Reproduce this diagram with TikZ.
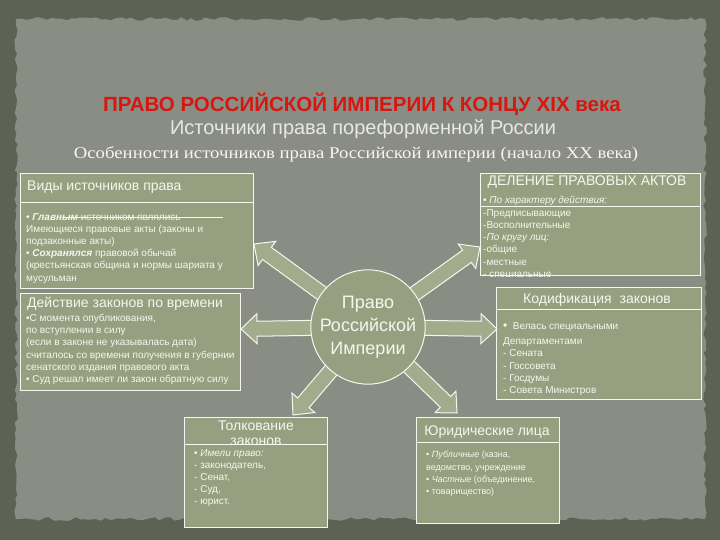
\documentclass[tikz,border=0pt]{standalone}
\usepackage{graphicx}
\usepackage{fontspec}
\setmainfont{Liberation Sans}
\newfontfamily\serifru{Liberation Serif}
\usetikzlibrary{calc,decorations.pathmorphing}
\definecolor{frame}{RGB}{92,98,84}
\definecolor{paper}{RGB}{138,141,132}
\definecolor{sage}{RGB}{150,160,128}
\definecolor{sagelt}{RGB}{162,172,140}
\definecolor{ink}{RGB}{246,246,238}
\definecolor{subgray}{RGB}{232,232,230}
\definecolor{titlered}{RGB}{215,22,18}
\newcommand\blockarrow[2]{%
  \coordinate (h) at ($(#2)!16pt!(#1)$);
  \draw[barrow] ($(#1)!7.5pt!90:(#2)$) -- ($(h)!7.5pt!90:(#2)$) -- ($(h)!15pt!90:(#2)$)
    -- (#2) -- ($(h)!15pt!-90:(#2)$) -- ($(h)!7.5pt!-90:(#2)$) -- ($(#1)!7.5pt!-90:(#2)$) -- cycle;}
\begin{document}
\begin{tikzpicture}[x=1pt,y=-1pt,
  box/.style={draw=ink, line width=1pt, fill=sage, rectangle, inner sep=0pt, anchor=north west},
  sepline/.style={draw=ink, line width=0.9pt},
  hdr/.style={text=ink, inner sep=0pt, font=\fontsize{14}{16}\selectfont},
  body/.style={text=ink, inner sep=0pt, anchor=north west, align=left, font=\fontsize{10}{12.2}\selectfont},
  barrow/.style={draw=ink, line width=1pt, fill=sagelt, line join=miter}]
\useasboundingbox (0,0) rectangle (720,540);
\fill[frame] (0,0) rectangle (720,540);
\pgfmathsetseed{7}
\fill[paper, decorate, decoration={random steps,segment length=5pt,amplitude=1.8pt}]
  (16,19) -- (705,19) -- (705,519) -- (16,519) -- cycle;

% titles
\node[font=\fontsize{20.5}{22}\selectfont\bfseries, text=titlered, inner sep=0pt] (title) at (362,104) {ПРАВО РОССИЙСКОЙ ИМПЕРИИ К КОНЦУ XIX века};
\node[font=\fontsize{20}{22}\selectfont, text=subgray, inner sep=0pt] (sub) at (363,129) {Источники права пореформенной России};
\node[font=\serifru\fontsize{16.5}{18}\selectfont, text=ink, inner sep=0pt] (sub2) at (356,154) {\scalebox{1.137}[1]{Особенности источников права Российской империи (начало XX века)}};

% boxes
\node[box, minimum width=233pt, minimum height=115pt] (b1) at (20,173) {};
\node[box, minimum width=220pt, minimum height=97pt] (b2) at (20,293) {};
\node[box, minimum width=220pt, minimum height=102pt] (b3) at (480,173) {};
\node[box, minimum width=205pt, minimum height=112pt] (b4) at (496,287) {};
\node[box, minimum width=143pt, minimum height=110pt] (b5) at (184,417) {};
\node[box, minimum width=143pt, minimum height=106pt] (b6) at (416,417) {};

% box 1
\node[hdr, anchor=west] (b1h) at (27,187) {Виды источников права};
\draw[sepline] (b1.west |- 0,202) -- (b1.east |- 0,202);
\node[body] (b1t) at (26,213) {\textbullet\ \textbf{\textit{Главным}} источником являлись\\
Имеющиеся правовые акты (законы и\\
подзаконные акты)\\
\textbullet\ \textbf{\textit{Сохранялся}} правовой обычай\\
(крестьянская община и нормы шариата у\\
мусульман};
\draw[draw=ink, line width=0.8pt] (62,217) -- (223,217);

% box 2
\node[hdr, anchor=west] (b2h) at (27,304) {Действие законов по времени};
\node[body] (b2t) at (26,314) {\textbullet С момента опубликования,\\
по вступлении в силу\\
(если в законе не указывалась дата)\\
считалось со времени получения в губернии\\
сенатского издания правового акта\\
\textbullet\ Суд решал имеет ли закон обратную силу};

% box 3
\node[hdr] (b3h) at (587,182) {ДЕЛЕНИЕ ПРАВОВЫХ АКТОВ};
\begin{scope}
\clip (b3.north west) rectangle (b3.south east);
\node[body] (b3t) at (483,196) {\textbullet\ \textit{По характеру действия:}\\[0.5pt]
-Предписывающие\\
-Восполнительные\\
-\textit{По кругу лиц:}\\
-общие\\
-местные\\
- специальные};
\end{scope}
\draw[sepline] (b3.west |- 0,206.5) -- (b3.east |- 0,206.5);

% box 4
\node[hdr] (b4h) at (597,300) {Кодификация\ \ законов};
\draw[sepline] (b4.west |- 0,309) -- (b4.east |- 0,309);
\node[body] (b4t) at (503,322) {{\large\textbullet}\ \ Велась специальными\\[3.5pt]
Департаментами\\
- Сената\\
- Госсовета\\
- Госдумы\\
- Совета Министров};

% box 5
\begin{scope}
\clip (b5.north west) rectangle (b5.east |- 0,444);
\node[hdr, align=center, font=\fontsize{14}{15.5}\selectfont] (b5h) at (256,433) {Толкование\\законов};
\end{scope}
\draw[sepline] (b5.west |- 0,444) -- (b5.east |- 0,444);
\node[body] (b5t) at (194,449) {\textbullet\ \textit{Имели право:}\\
- законодатель,\\
- Сенат,\\
- Суд,\\
- юрист.};

% box 6
\node[hdr] (b6h) at (487,432) {Юридические лица};
\draw[sepline] (b6.west |- 0,442) -- (b6.east |- 0,442);
\node[body, font=\fontsize{9}{12.2}\selectfont] (b6t) at (426,451) {\textbullet\ \textit{Публичные} (казна,\\
ведомство, учреждение\\
\textbullet\ \textit{Частные} (объединение,\\
\textbullet\ товарищество)};

% arrows
\coordinate (c) at (368,327);
\coordinate (t1) at (254,244);
\coordinate (t2) at (480,247);
\coordinate (t3) at (241,329);
\coordinate (t4) at (497,329);
\coordinate (t5) at (293,415);
\coordinate (t6) at (457,413);
\blockarrow{c}{t1}
\blockarrow{c}{t2}
\blockarrow{c}{t3}
\blockarrow{c}{t4}
\blockarrow{c}{t5}
\blockarrow{c}{t6}

\node[circle, draw=ink, line width=1pt, fill=sage, minimum size=113pt, inner sep=0pt, align=center,
  font=\fontsize{18}{23}\selectfont, text=ink] (core) at (c) {Право\\Российской\\Империи};
\end{tikzpicture}
\end{document}
